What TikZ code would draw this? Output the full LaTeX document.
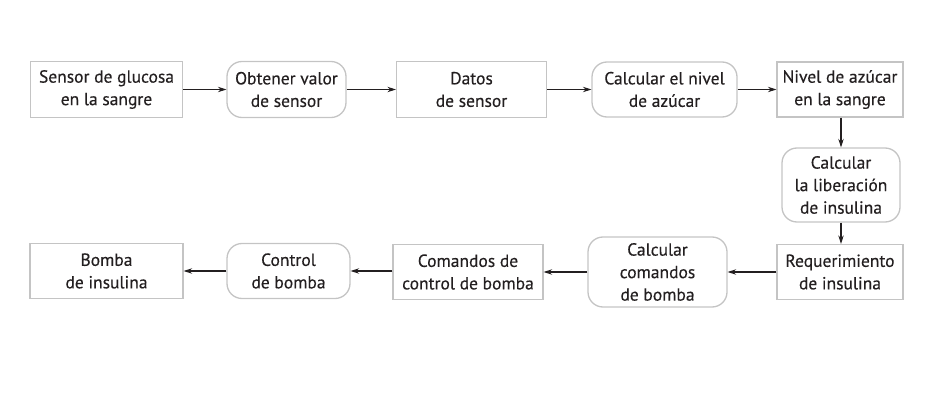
\documentclass[tikz,border=0pt]{standalone}
\usepackage{fontspec}
\setmainfont{PT Sans}[FakeBold=0.35]
\usepackage{tikz}
\usetikzlibrary{arrows.meta}
\definecolor{bordegris}{HTML}{C4C4C4}
\definecolor{textogris}{HTML}{231F20}

\begin{document}
\begin{tikzpicture}[x=1pt,y=-1pt,
    caja/.style={draw=bordegris,line width=1.3pt,align=center,inner sep=0pt,text=textogris,font=\fontsize{17.5}{22.5}\selectfont},
    proc/.style={caja,rounded corners=15pt},
    flecha/.style={-{Stealth[length=8.5pt,width=5.5pt]},line width=1.1pt,draw=textogris}]
		\useasboundingbox (0,0) rectangle (927,417);
		\node[caja,minimum width=152pt,minimum height=56pt] (sensor) at (106.5,89.5) {Sensor de glucosa\\en la sangre};
		\node[proc,minimum width=119pt,minimum height=56pt] (obtener) at (286.5,89.5) {Obtener valor\\de sensor};
		\node[caja,minimum width=150pt,minimum height=56pt] (datos) at (471.5,89.5) {Datos\\de sensor};
		\node[proc,minimum width=145pt,minimum height=55pt] (nivelcalc) at (664.5,89.5) {Calcular el nivel\\de azúcar};
		\node[caja,minimum width=126pt,minimum height=55pt] (nivel) at (840,89.5) {Nivel de azúcar\\en la sangre};
		\node[proc,minimum width=118pt,minimum height=74pt] (liberacion) at (841,185) {Calcular\\la liberación\\de insulina};
		\node[caja,minimum width=126pt,minimum height=55pt] (requerimiento) at (840,272) {Requerimiento\\de insulina};
		\node[proc,minimum width=139pt,minimum height=70pt] (calccomandos) at (657.5,272) {Calcular\\comandos\\de bomba};
		\node[caja,minimum width=150pt,minimum height=55pt] (comandos) at (468,272) {Comandos de\\control de bomba};
		\node[proc,minimum width=123pt,minimum height=55pt] (control) at (288.5,271) {Control\\de bomba};
		\node[caja,minimum width=153pt,minimum height=55pt] (bomba) at (106.5,271) {Bomba\\de insulina};
		\draw[flecha] (sensor) -- (obtener);
		\draw[flecha] (obtener) -- (datos);
		\draw[flecha] (datos) -- (nivelcalc);
		\draw[flecha] (nivelcalc) -- (nivel);
		\draw[flecha] (nivel.south -| liberacion.north) -- (liberacion.north);
		\draw[flecha] (liberacion.south) -- (liberacion.south |- requerimiento.north);
		\draw[flecha] (requerimiento.west) -- (calccomandos.east |- requerimiento.west);
		\draw[flecha] (calccomandos.west |- comandos.east) -- (comandos.east);
		\draw[flecha] (comandos.west |- control.east) -- (control.east);
		\draw[flecha] (control) -- (bomba);
\end{tikzpicture}
\end{document}
